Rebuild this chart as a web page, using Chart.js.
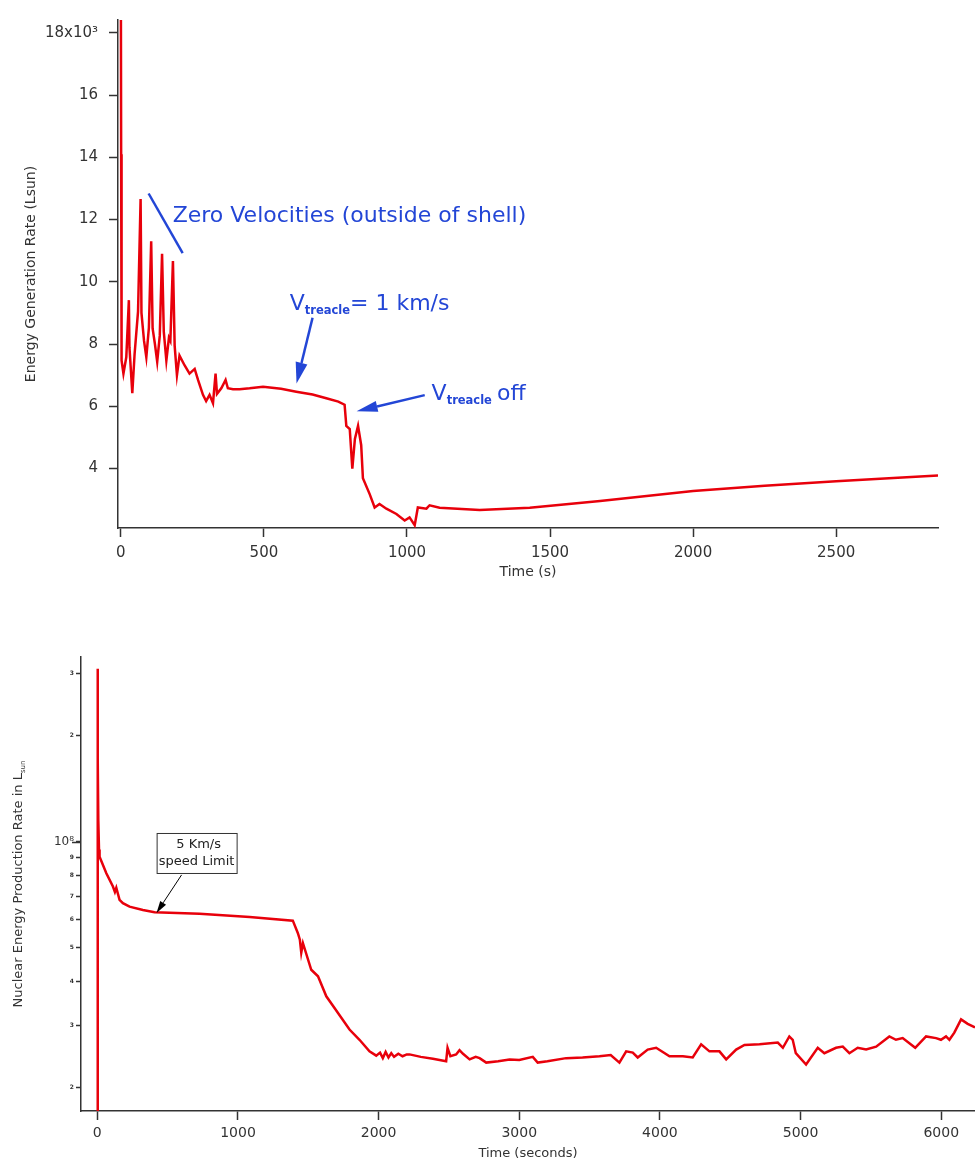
<!DOCTYPE html>
<html>
<head>
<meta charset="utf-8">
<title>Energy generation rate</title>
<script src="https://cdn.jsdelivr.net/npm/chart.js@4.4.1/dist/chart.umd.min.js"></script>
<style>
  body { margin: 0; background: #fff; }
  .panel { position: absolute; left: 0; }
  #rateChart { top: 0; }
  #nuclearChart { top: 620px; }
</style>
</head>
<body>
<canvas id="rateChart" class="panel" width="975" height="600"></canvas>
<canvas id="nuclearChart" class="panel" width="975" height="543"></canvas>
<script>
// Energy generation rate of the treacle run (Lsun against time in s)
const rateTimes = [0, 1, 2, 3, 9, 19, 28, 30, 40, 48, 60, 69, 72, 81, 89, 98, 106, 111, 119, 127,
    136, 144, 150, 159, 168, 173, 182, 188, 196, 205, 223, 240, 258, 270, 287, 298, 310, 322, 331, 336,
    351, 366, 374, 392, 415, 450, 497, 560, 613, 670, 718, 760, 782, 788, 800, 809, 818, 829, 840, 846,
    870, 887, 904, 928, 963, 992, 1009, 1027, 1038, 1068, 1079, 1114, 1254, 1429, 1675, 2000, 2250, 2500,
    2700, 2856];
const rateValues = [19500, 14100, 10800, 7470, 7050, 7580, 9410, 7900, 6420, 7680, 9040, 12660, 9000, 8100, 7580, 8530, 11300, 8500, 8000, 7430,
    8270, 10900, 8400, 7470, 8200, 8100, 10670, 7950, 7000, 7630, 7310, 7050, 7200, 6840, 6370, 6170, 6370, 6100, 7050, 6400,
    6580, 6850, 6580, 6550, 6550, 6580, 6630, 6560, 6470, 6380, 6260, 6150, 6050, 5370, 5270, 4000, 4950, 5370, 4750, 3690,
    3170, 2750, 2860, 2710, 2540, 2330, 2430, 2180, 2750, 2710, 2820, 2740, 2670, 2740, 2960, 3280, 3450, 3590,
    3700, 3780];
const rateTicksX = [0, 500, 1000, 1500, 2000, 2500];
const rateTicksY = [4000, 6000, 8000, 10000, 12000, 14000, 16000, 18000];

// Nuclear energy production rate with the 5 km/s speed limit (Lsun against time in s)
const nuclearTimes = [0, 2, 4, 7, 12, 16, 35, 64, 111, 125, 135, 158, 182, 229, 324, 407, 727, 1083, 1390, 1426,
    1440, 1450, 1462, 1521, 1569, 1628, 1710, 1793, 1864, 1935, 1983, 2010, 2030, 2050, 2070, 2090, 2110, 2140, 2170, 2200,
    2220, 2300, 2386, 2480, 2490, 2510, 2551, 2575, 2600, 2647, 2690, 2718, 2765, 2850, 2931, 3000, 3096, 3131, 3200, 3333,
    3450, 3570, 3650, 3712, 3760, 3807, 3842, 3913, 3973, 4068, 4163, 4233, 4293, 4352, 4423, 4471, 4542, 4601, 4708, 4838,
    4874, 4920, 4944, 4966, 5039, 5122, 5169, 5252, 5300, 5347, 5406, 5466, 5537, 5631, 5678, 5726, 5815, 5892, 5963, 5998,
    6034, 6058, 6093, 6141, 6188, 6240];
const nuclearValues = [1.0e7, 3.1e8, 1.71e8, 1.15e8, 9.5e7, 9.07e7, 8.69e7, 8.14e7, 7.46e7, 7.2e7, 7.4e7, 6.84e7, 6.69e7, 6.54e7, 6.4e7, 6.31e7, 6.24e7, 6.11e7, 5.97e7, 5.5e7,
    5.27e7, 4.84e7, 5.15e7, 4.33e7, 4.15e7, 3.64e7, 3.27e7, 2.93e7, 2.74e7, 2.54e7, 2.47e7, 2.52e7, 2.43e7, 2.53e7, 2.44e7, 2.51e7, 2.45e7, 2.5e7, 2.46e7, 2.49e7,
    2.49e7, 2.45e7, 2.42e7, 2.38e7, 2.6e7, 2.46e7, 2.49e7, 2.56e7, 2.5e7, 2.41e7, 2.45e7, 2.43e7, 2.36e7, 2.38e7, 2.41e7, 2.4e7, 2.45e7, 2.36e7, 2.38e7, 2.43e7,
    2.44e7, 2.46e7, 2.48e7, 2.36e7, 2.54e7, 2.52e7, 2.44e7, 2.57e7, 2.6e7, 2.46e7, 2.46e7, 2.44e7, 2.66e7, 2.54e7, 2.54e7, 2.41e7, 2.57e7, 2.65e7, 2.66e7, 2.69e7,
    2.6e7, 2.8e7, 2.74e7, 2.51e7, 2.33e7, 2.6e7, 2.51e7, 2.6e7, 2.62e7, 2.51e7, 2.6e7, 2.57e7, 2.62e7, 2.8e7, 2.74e7, 2.77e7, 2.6e7, 2.8e7, 2.77e7, 2.74e7,
    2.8e7, 2.74e7, 2.87e7, 3.13e7, 3.04e7, 2.97e7];
const nuclearTicksX = [0, 1000, 2000, 3000, 4000, 5000, 6000];
const nuclearTicksY = [2e7, 3e7, 4e7, 5e7, 6e7, 7e7, 8e7, 9e7, 1e8, 2e8, 3e8];

const RED = '#e8000b';
const BLUE = '#2346d6';
const AXIS = '#333';
const FONT = "'DejaVu Sans', Verdana, sans-serif";

function toPoints(xs, ys) {
    return xs.map((x, i) => ({ x: x, y: ys[i] }));
}

function drawArrow(ctx, x1, y1, x2, y2, color, width, headLen, headWidth) {
    const ang = Math.atan2(y2 - y1, x2 - x1);
    const bx = x2 - headLen * Math.cos(ang);
    const by = y2 - headLen * Math.sin(ang);
    const nx = Math.sin(ang) * headWidth / 2;
    const ny = Math.cos(ang) * headWidth / 2;
    ctx.strokeStyle = color;
    ctx.lineWidth = width;
    ctx.beginPath();
    ctx.moveTo(x1, y1);
    ctx.lineTo(bx, by);
    ctx.stroke();
    ctx.fillStyle = color;
    ctx.beginPath();
    ctx.moveTo(x2, y2);
    ctx.lineTo(bx + nx, by - ny);
    ctx.lineTo(bx - nx, by + ny);
    ctx.closePath();
    ctx.fill();
}

// Draws a run of text pieces left to right, each with its own font and baseline shift
function drawRun(ctx, x, y, parts) {
    ctx.textAlign = 'left';
    ctx.textBaseline = 'alphabetic';
    parts.forEach(p => {
        ctx.font = p.font;
        ctx.fillText(p.text, x, y + (p.dy || 0));
        x += ctx.measureText(p.text).width + (p.gap || 0);
    });
}

// Blue labels and arrows on the upper panel, anchored in data units
const rateNotes = {
    id: 'rateNotes',
    afterDatasetsDraw(chart) {
        const { ctx, scales: { x, y } } = chart;
        const px = (t, v) => [x.getPixelForValue(t), y.getPixelForValue(v)];
        const big = '22px ' + FONT;
        const sub = 'bold 11.5px ' + FONT;
        ctx.save();
        ctx.fillStyle = BLUE;

        let p = px(181, 11925);
        drawRun(ctx, p[0], p[1], [{ text: 'Zero Velocities (outside of shell)', font: big }]);
        const a = px(97, 12836), b = px(216, 10918);
        ctx.strokeStyle = BLUE;
        ctx.lineWidth = 2.5;
        ctx.beginPath();
        ctx.moveTo(a[0], a[1]);
        ctx.lineTo(b[0], b[1]);
        ctx.stroke();

        p = px(590, 9094);
        ctx.fillStyle = BLUE;
        drawRun(ctx, p[0], p[1], [
            { text: 'V', font: big },
            { text: 'treacle', font: sub, dy: 4 },
            { text: '= 1 km/s', font: big }
        ]);
        let s = px(670, 8843), e = px(614, 6736);
        drawArrow(ctx, s[0], s[1], e[0], e[1], BLUE, 2.5, 21, 12);

        p = px(1086, 6201);
        ctx.fillStyle = BLUE;
        drawRun(ctx, p[0], p[1], [
            { text: 'V', font: big },
            { text: 'treacle', font: sub, dy: 4, gap: 5 },
            { text: 'off', font: big }
        ]);
        s = px(1062, 6358);
        e = px(824, 5840);
        drawArrow(ctx, s[0], s[1], e[0], e[1], BLUE, 2.5, 21, 11);
        ctx.restore();
    }
};

// Boxed note, y title with subscript and the long decade tick on the lower panel
const nuclearNotes = {
    id: 'nuclearNotes',
    afterDatasetsDraw(chart) {
        const { ctx, chartArea, scales: { x, y } } = chart;
        ctx.save();

        const cx = x.getPixelForValue(706), cy = y.getPixelForValue(9.29e7);
        ctx.fillStyle = '#fff';
        ctx.fillRect(cx - 40, cy - 20, 80, 40);
        ctx.strokeStyle = '#333';
        ctx.lineWidth = 1;
        ctx.strokeRect(cx - 40 + 0.5, cy - 20 + 0.5, 80, 40);
        ctx.fillStyle = '#222';
        ctx.font = '13px ' + FONT;
        ctx.textAlign = 'center';
        ctx.textBaseline = 'middle';
        ctx.fillText('5 Km/s', cx + 2, cy - 8);
        ctx.fillText('speed Limit', cx, cy + 9);

        const s = [x.getPixelForValue(599), y.getPixelForValue(8.05e7)];
        const e = [x.getPixelForValue(421), y.getPixelForValue(6.28e7)];
        drawArrow(ctx, s[0], s[1], e[0], e[1], '#000', 1, 12, 7);

        // longer tick at the decade mark
        const yd = Math.round(y.getPixelForValue(1e8)) + 0.5;
        ctx.strokeStyle = AXIS;
        ctx.lineWidth = 1.5;
        ctx.beginPath();
        ctx.moveTo(chartArea.left - 9, yd);
        ctx.lineTo(chartArea.left, yd);
        ctx.stroke();

        // rotated axis title with the "sun" subscript
        ctx.translate(18, (chartArea.top + chartArea.bottom) / 2);
        ctx.rotate(-Math.PI / 2);
        ctx.fillStyle = AXIS;
        const main = 'Nuclear Energy Production Rate in L';
        ctx.font = '13px ' + FONT;
        const w1 = ctx.measureText(main).width;
        ctx.font = '7px ' + FONT;
        const w2 = ctx.measureText('sun').width;
        const x0 = -(w1 + w2) / 2;
        drawRun(ctx, x0, 4, [
            { text: main, font: '13px ' + FONT },
            { text: 'sun', font: '7px ' + FONT, dy: 3 }
        ]);
        ctx.restore();
    }
};

function axisBase(tickLength, tickPadding, fontSize) {
    return {
        type: 'linear',
        border: { display: true, color: AXIS, width: 1.5 },
        grid: { drawOnChartArea: false, drawTicks: true, tickLength: tickLength, tickColor: AXIS, tickWidth: 1.5 },
        ticks: {
            color: AXIS, font: { family: FONT, size: fontSize }, padding: tickPadding,
            autoSkip: false, maxRotation: 0, callback: v => String(v)
        }
    };
}

const common = {
    responsive: false,
    animation: false,
    events: [],
    plugins: { legend: { display: false }, tooltip: { enabled: false } }
};

// Upper panel: linear rate axis
const rateX = axisBase(9, 7, 15);
Object.assign(rateX, {
    min: -10, max: 2856,
    afterBuildTicks: s => { s.ticks = rateTicksX.map(v => ({ value: v })); },
    afterFit: s => { s.height = 72; },
    title: { display: true, text: 'Time (s)', color: AXIS, font: { family: FONT, size: 14 }, padding: { top: 0, bottom: 19 } }
});
const rateY = axisBase(9, 11, 15);
Object.assign(rateY, {
    min: 2090, max: 18410,
    afterBuildTicks: s => { s.ticks = rateTicksY.map(v => ({ value: v })); },
    afterFit: s => { s.width = 118; },
    title: { display: true, text: 'Energy Generation Rate (Lsun)', color: AXIS, font: { family: FONT, size: 14 }, padding: { top: 23, bottom: 0 } }
});
rateY.ticks.callback = v => v === 18000 ? '18x10³' : String(v / 1000);

new Chart(document.getElementById('rateChart'), {
    type: 'line',
    data: {
        datasets: [{
            data: toPoints(rateTimes, rateValues),
            borderColor: RED,
            borderWidth: 2.5,
            pointRadius: 0,
            tension: 0,
            fill: false
        }]
    },
    options: Object.assign({}, common, {
        layout: { padding: { top: 8, right: 37, left: 0, bottom: 0 } },
        scales: { x: rateX, y: rateY }
    }),
    plugins: [rateNotes]
});

// Lower panel: logarithmic rate axis
const nuclearX = axisBase(9, 5, 14);
Object.assign(nuclearX, {
    min: -116, max: 6240,
    afterBuildTicks: s => { s.ticks = nuclearTicksX.map(v => ({ value: v })); },
    afterFit: s => { s.height = 52; },
    title: { display: true, text: 'Time (seconds)', color: AXIS, font: { family: FONT, size: 13 }, padding: { top: 0, bottom: 2 } }
});
const nuclearY = axisBase(5, 2, 6);
Object.assign(nuclearY, {
    type: 'logarithmic',
    min: 1.72e7, max: 3.345e8,
    afterBuildTicks: s => { s.ticks = nuclearTicksY.map(v => ({ value: v })); },
    afterFit: s => { s.width = 81; }
});
nuclearY.ticks.font = ctx => (ctx.tick && ctx.tick.value === 1e8)
    ? { family: FONT, size: 12 }
    : { family: FONT, size: 6, weight: 'bold' };
nuclearY.ticks.callback = v => {
    if (v === 1e8) return '10⁸';
    return String(Math.round(v / Math.pow(10, Math.floor(Math.log10(v)))));
};

new Chart(document.getElementById('nuclearChart'), {
    type: 'line',
    data: {
        datasets: [{
            data: toPoints(nuclearTimes, nuclearValues),
            borderColor: RED,
            borderWidth: 2.5,
            pointRadius: 0,
            tension: 0,
            fill: false
        }]
    },
    options: Object.assign({}, common, {
        layout: { padding: { top: 37, right: 0, left: 0, bottom: 0 } },
        scales: { x: nuclearX, y: nuclearY }
    }),
    plugins: [nuclearNotes]
});
</script>
</body>
</html>
